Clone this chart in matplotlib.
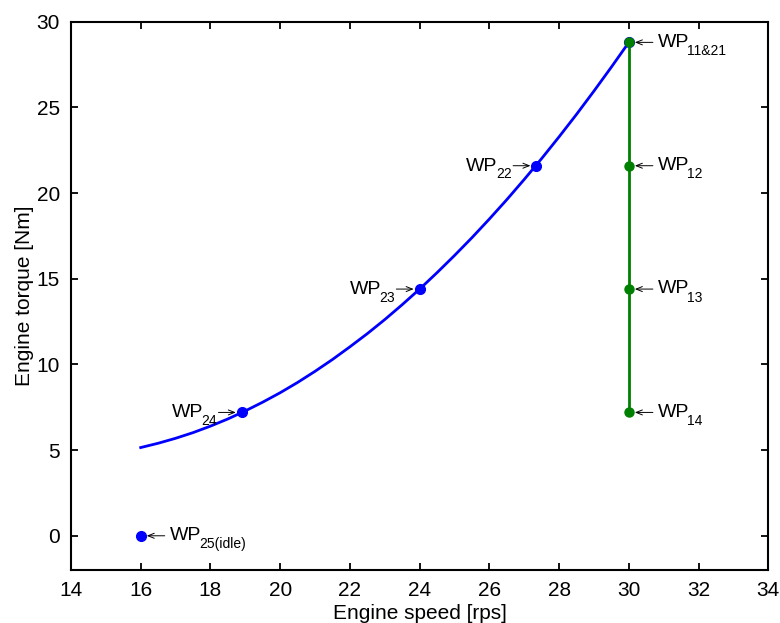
import matplotlib
matplotlib.use("Agg")
import matplotlib.pyplot as plt

plt.rcParams["font.family"] = ["Liberation Sans", "DejaVu Sans"]

# DATA
# full-load curve
curve_speed = [16, 16.5, 17, 17.5, 18, 18.5, 19, 19.5, 20, 20.5, 21, 21.5,
               22, 22.5, 23, 23.5, 24, 24.5, 25, 25.5, 26, 26.5, 27, 27.5,
               28, 28.5, 29, 29.5, 30]
curve_torque = [5.15, 5.40, 5.69, 6.02, 6.40, 6.82, 7.29, 7.80, 8.35, 8.95,
                9.60, 10.29, 11.03, 11.80, 12.62, 13.49, 14.4, 15.36, 16.36,
                17.40, 18.49, 19.62, 20.80, 22.02, 23.29, 24.60, 25.96,
                27.36, 28.8]

# working points on the curve
blue_speed = [16, 18.9, 24, 27.35, 30]
blue_torque = [0, 7.2, 14.4, 21.6, 28.8]
blue_labels = ["25(idle)", "24", "23", "22", "11&21"]

# working points at constant speed
green_speed = [30, 30, 30, 30]
green_torque = [28.8, 21.6, 14.4, 7.2]
green_labels = ["11&21", "12", "13", "14"]

BLUE = "#0000ff"
GREEN = "#008000"

fig = plt.figure(figsize=(7.8, 6.23), dpi=100)
ax = fig.add_axes([0.091, 0.085, 0.894, 0.880])

ax.plot(curve_speed, curve_torque, color=BLUE, lw=2)
ax.plot(blue_speed, blue_torque, "o", color=BLUE, ms=7)
ax.plot(green_speed, green_torque, "-o", color=GREEN, lw=2, ms=6.5)

arrow = dict(arrowstyle="->,head_length=0.45,head_width=0.18", lw=0.7,
             color="black", shrinkA=0, shrinkB=4.3)


def label_right(x, y, sub):
    ax.annotate("", xy=(x, y), xytext=(17.3, 0), textcoords="offset points",
                arrowprops=arrow)
    wp = ax.annotate("WP", xy=(x, y), xytext=(20.8, -3),
                     textcoords="offset points",
                     ha="left", va="baseline", fontsize=14)
    ax.annotate(sub, xy=(1, y), xycoords=(wp, "data"), xytext=(-1.2, -9),
                textcoords="offset points",
                ha="left", va="baseline", fontsize=10)


def label_left(x, y, sub):
    ax.annotate("", xy=(x, y), xytext=(-16.8, 0), textcoords="offset points",
                arrowprops=arrow)
    s = ax.annotate(sub, xy=(x, y), xytext=(-17.8, -9),
                    textcoords="offset points",
                    ha="right", va="baseline", fontsize=10)
    ax.annotate("WP", xy=(0, y), xycoords=(s, "data"), xytext=(1.2, -3.5),
                textcoords="offset points",
                ha="right", va="baseline", fontsize=14)


label_right(blue_speed[0], blue_torque[0], blue_labels[0])
for i in range(1, 4):
    label_left(blue_speed[i], blue_torque[i], blue_labels[i])
for i in range(4):
    label_right(green_speed[i], green_torque[i], green_labels[i])

ax.set_xlim(14, 34)
ax.set_ylim(-2, 30)
ax.set_xticks(range(14, 35, 2))
ax.set_yticks(range(0, 31, 5))
ax.tick_params(direction="in", length=5, width=1.3, labelsize=15,
               top=True, right=True, pad=8)
for s in ax.spines.values():
    s.set_linewidth(1.5)

ax.set_xlabel("Engine speed [rps]", fontsize=15, labelpad=3)
ax.set_ylabel("Engine torque [Nm]", fontsize=15, labelpad=2)

fig.savefig("out.png", dpi=100)
